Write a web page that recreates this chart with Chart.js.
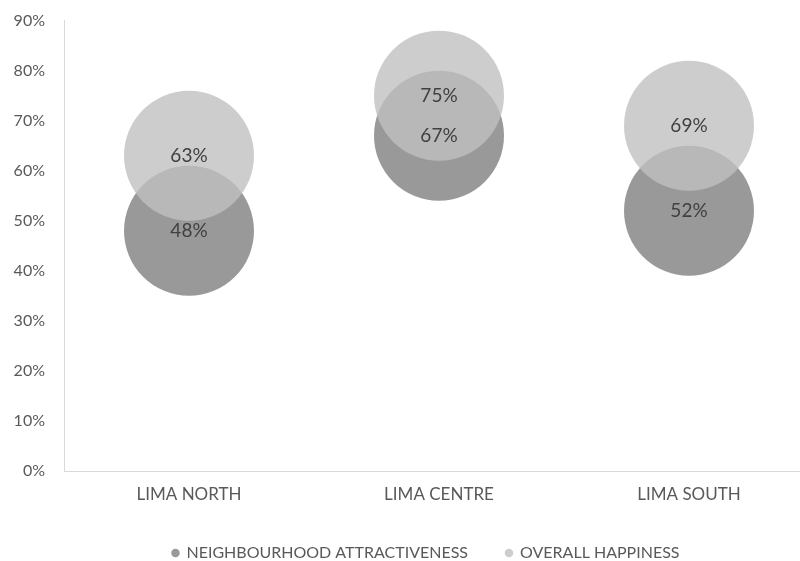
<!DOCTYPE html>
<html>
<head>
<meta charset="utf-8">
<script src="https://cdn.jsdelivr.net/npm/chart.js@4/dist/chart.umd.min.js"></script>
<style>
  html, body { margin: 0; padding: 0; background: #fff; }
  #wrap { width: 800px; height: 561px; }
</style>
</head>
<body>
<div id="wrap"><canvas id="bubble-chart"></canvas></div>
<script>
var districts = ["LIMA NORTH", "LIMA CENTRE", "LIMA SOUTH"];
var attractiveness = [48, 67, 52];
var happiness = [63, 75, 69];
var seriesNames = ["NEIGHBOURHOOD ATTRACTIVENESS", "OVERALL HAPPINESS"];

function toPoints(values) {
	var pts = [];
	for (var i in values) {
		pts.push({ x: Number(i), y: values[i] });
	}
	return pts;
}

// labels in the middle of every bubble
var bubbleLabels = {
	id: "bubbleLabels",
	afterDatasetsDraw: function(chart) {
		var ctx = chart.ctx;
		ctx.save();
		ctx.font = "19px Lato";
		ctx.fillStyle = "#404040";
		ctx.textAlign = "center";
		ctx.textBaseline = "middle";
		chart.data.datasets.forEach(function(ds, di) {
			var meta = chart.getDatasetMeta(di);
			meta.data.forEach(function(el, i) {
				ctx.fillText(ds.data[i].y + "%", el.x, el.y);
			});
		});
		ctx.restore();
	}
};

// legend sits a bit right of centre in the original
var legendShift = {
	id: "legendShift",
	afterLayout: function(chart) {
		chart.legend.left += 26;
		chart.legend.right += 26;
	}
};

var ctx1 = document.getElementById("bubble-chart");
var chart1 = new Chart(ctx1, {
	type: "bubble",
	data: {
		datasets: [
			{
				label: seriesNames[0],
				data: toPoints(attractiveness),
				backgroundColor: "rgba(128,128,128,0.8)",
				borderWidth: 0,
				radius: 65,
				order: 2,
				clip: false
			},
			{
				label: seriesNames[1],
				data: toPoints(happiness),
				backgroundColor: "rgba(192,192,192,0.8)",
				borderWidth: 0,
				radius: 65,
				order: 1,
				clip: false
			}
		]
	},
	plugins: [bubbleLabels, legendShift],
	options: {
		responsive: true,
		maintainAspectRatio: false,
		animation: false,
		layout: { autoPadding: false, padding: { top: 19, right: 0, left: 0, bottom: -10 } },
		plugins: {
			tooltip: { enabled: false },
			legend: {
				position: "bottom",
				labels: {
					usePointStyle: true,
					pointStyle: "circle",
					boxWidth: 6,
					boxHeight: 6,
					padding: 38,
					color: "#595959",
					font: { family: "Lato", size: 16 },
					sort: function(a, b) { return a.datasetIndex - b.datasetIndex; }
				}
			}
		},
		scales: {
			x: {
				type: "linear",
				min: -0.5,
				max: 2.444,
				grid: { display: false },
				border: { color: "#d9d9d9" },
				afterBuildTicks: function(scale) {
					scale.ticks = districts.map(function(d, i) { return { value: i }; });
				},
				afterFit: function(scale) { scale.height = 36; },
				ticks: {
					color: "#595959",
					font: { family: "Lato", size: 17 },
					padding: 5,
					maxRotation: 0,
					callback: function(v) { return districts[v]; }
				}
			},
			y: {
				min: 0,
				max: 90,
				grid: { display: false },
				border: { color: "#d9d9d9" },
				afterFit: function(scale) { scale.width = 64; },
				ticks: {
					stepSize: 10,
					color: "#595959",
					font: { family: "Lato", size: 16 },
					padding: 11,
					callback: function(v) { return v + "%"; }
				}
			}
		}
	}
});
</script>
</body>
</html>
